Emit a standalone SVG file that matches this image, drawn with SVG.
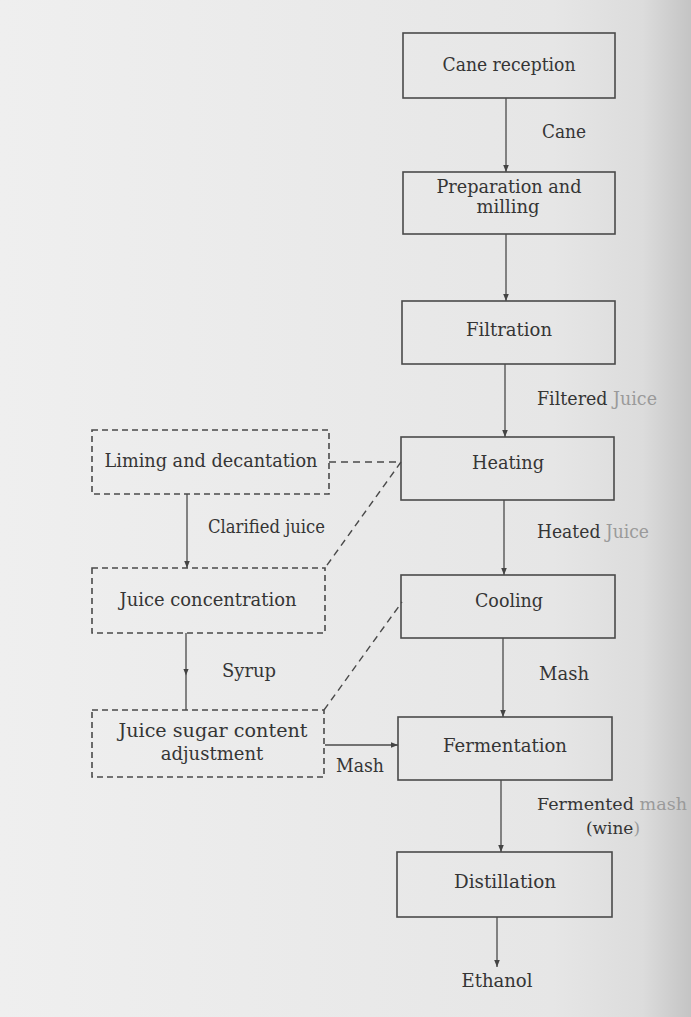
<svg xmlns="http://www.w3.org/2000/svg" width="691" height="1017" viewBox="0 0 691 1017">
<defs>
<linearGradient id="paper" x1="0" y1="0" x2="1" y2="0">
<stop offset="0" stop-color="#efefef"/>
<stop offset="0.8" stop-color="#e6e6e6"/>
<stop offset="0.93" stop-color="#dcdcdc"/>
<stop offset="1" stop-color="#c4c4c4"/>
</linearGradient>
<marker id="arr" viewBox="0 0 10 10" refX="10" refY="5" markerWidth="7" markerHeight="7" orient="auto" markerUnits="userSpaceOnUse">
<path d="M0,1 L10,5 L0,9 Z" fill="#444"/>
</marker>
<marker id="mid" viewBox="0 0 10 10" refX="5" refY="5" markerWidth="7" markerHeight="7" orient="auto" markerUnits="userSpaceOnUse">
<path d="M0,1 L10,5 L0,9 Z" fill="#444"/>
</marker>
</defs>
<style>
.box{fill:none;stroke:#4a4a4a;stroke-width:1.6}
.dbox{fill:none;stroke:#4a4a4a;stroke-width:1.6;stroke-dasharray:6 4}
.line{fill:none;stroke:#4a4a4a;stroke-width:1.3}
.dash{fill:none;stroke:#4a4a4a;stroke-width:1.4;stroke-dasharray:7 5}
text{font-family:"DejaVu Serif","Liberation Serif",serif;font-size:18px;fill:#353535}
.c{text-anchor:middle}
.s{font-size:17px}
.faint{fill:#9a9a9a}
</style>
<rect x="0" y="0" width="691" height="1017" fill="url(#paper)"/>

<g id="connectors">
<line class="line" x1="506" y1="98" x2="506" y2="172" marker-end="url(#arr)"/>
<line class="line" x1="506" y1="234" x2="506" y2="301" marker-end="url(#arr)"/>
<line class="line" x1="505" y1="364" x2="505" y2="437" marker-end="url(#arr)"/>
<line class="line" x1="504" y1="500" x2="504" y2="575" marker-end="url(#arr)"/>
<line class="line" x1="503" y1="638" x2="503" y2="717" marker-end="url(#arr)"/>
<line class="line" x1="501" y1="780" x2="501" y2="852" marker-end="url(#arr)"/>
<line class="line" x1="497" y1="917" x2="497" y2="967" marker-end="url(#arr)"/>
<line class="line" x1="187" y1="494" x2="187" y2="568" marker-end="url(#arr)"/>
<polyline class="line" points="186,633 186,672 186,710" marker-mid="url(#mid)"/>
<line class="line" x1="325" y1="745" x2="398" y2="745" marker-end="url(#arr)"/>
<polyline class="dash" points="329,462 401,462 325,568"/>
<line class="dash" x1="324" y1="710" x2="402" y2="602"/>
<text x="542" y="138" textLength="44" lengthAdjust="spacingAndGlyphs">Cane</text>
<text x="537" y="405" textLength="120" lengthAdjust="spacingAndGlyphs">Filtered <tspan class="faint">Juice</tspan></text>
<text x="537" y="538" textLength="112" lengthAdjust="spacingAndGlyphs">Heated <tspan class="faint">Juice</tspan></text>
<text x="539" y="680" textLength="50" lengthAdjust="spacingAndGlyphs">Mash</text>
<text class="s" x="537" y="810" textLength="150" lengthAdjust="spacingAndGlyphs">Fermented <tspan class="faint">mash</tspan></text>
<text class="s" x="586" y="834" textLength="54" lengthAdjust="spacingAndGlyphs">(wine<tspan class="faint">)</tspan></text>
<text x="208" y="533" textLength="117" lengthAdjust="spacingAndGlyphs">Clarified juice</text>
<text x="222" y="677" textLength="54" lengthAdjust="spacingAndGlyphs">Syrup</text>
<text x="336" y="772" textLength="48" lengthAdjust="spacingAndGlyphs">Mash</text>
</g>

<g id="cane-reception">
<rect class="box" x="403" y="33" width="212" height="65"/>
<text class="c" x="509" y="71" textLength="133" lengthAdjust="spacingAndGlyphs">Cane reception</text>
</g>
<g id="preparation-milling">
<rect class="box" x="403" y="172" width="212" height="62"/>
<text class="c" x="509" y="193" textLength="145" lengthAdjust="spacingAndGlyphs">Preparation and</text>
<text class="c" x="508" y="213">milling</text>
</g>
<g id="filtration">
<rect class="box" x="402" y="301" width="213" height="63"/>
<text class="c" x="509" y="336" textLength="86" lengthAdjust="spacingAndGlyphs">Filtration</text>
</g>
<g id="heating">
<rect class="box" x="401" y="437" width="213" height="63"/>
<text class="c" x="508" y="469" textLength="72" lengthAdjust="spacingAndGlyphs">Heating</text>
</g>
<g id="cooling">
<rect class="box" x="401" y="575" width="214" height="63"/>
<text class="c" x="509" y="607" textLength="68" lengthAdjust="spacingAndGlyphs">Cooling</text>
</g>
<g id="fermentation">
<rect class="box" x="398" y="717" width="214" height="63"/>
<text class="c" x="505" y="752" textLength="124" lengthAdjust="spacingAndGlyphs">Fermentation</text>
</g>
<g id="distillation">
<rect class="box" x="397" y="852" width="215" height="65"/>
<text class="c" x="505" y="888" textLength="102" lengthAdjust="spacingAndGlyphs">Distillation</text>
</g>
<g id="ethanol">
<text class="c" x="497" y="987" textLength="71" lengthAdjust="spacingAndGlyphs">Ethanol</text>
</g>
<g id="liming-decantation">
<rect class="dbox" x="92" y="430" width="237" height="64"/>
<text class="c" x="211" y="467" textLength="213" lengthAdjust="spacingAndGlyphs">Liming and decantation</text>
</g>
<g id="juice-concentration">
<rect class="dbox" x="92" y="568" width="233" height="65"/>
<text class="c" x="208" y="606" textLength="177" lengthAdjust="spacingAndGlyphs">Juice concentration</text>
</g>
<g id="juice-sugar-adjustment">
<rect class="dbox" x="92" y="710" width="232" height="67"/>
<text class="c" x="213" y="737" textLength="189" lengthAdjust="spacingAndGlyphs">Juice sugar content</text>
<text class="c" x="212" y="760">adjustment</text>
</g>
</svg>
